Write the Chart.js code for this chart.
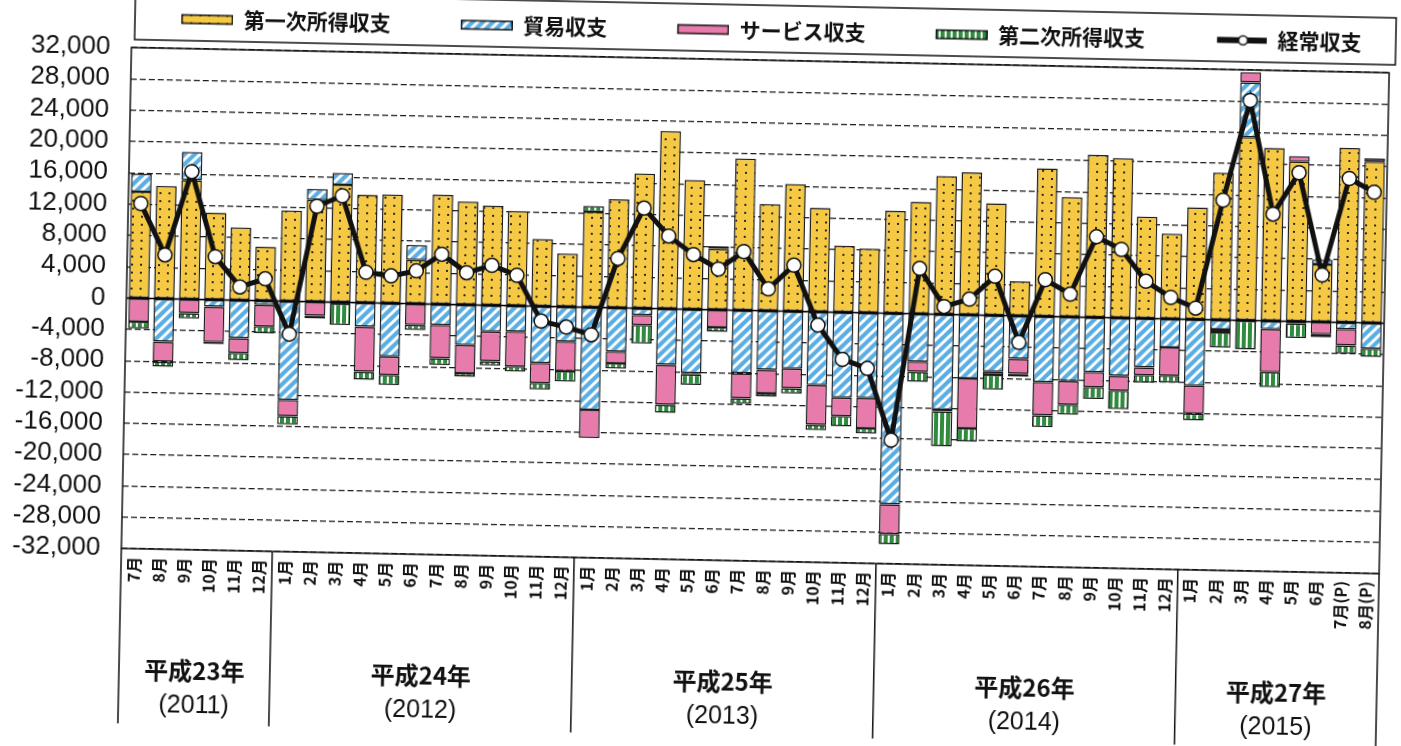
<!DOCTYPE html>
<html lang="ja">
<head>
<meta charset="utf-8">
<title>経常収支の推移</title>
<script src="https://cdn.jsdelivr.net/npm/chart.js@4.4.0/dist/chart.umd.min.js"></script>
<style>
  html, body { margin: 0; padding: 0; background: #fff; overflow: hidden; }
  /* the scan is a little skewed, so the whole drawing is turned the same way */
  #wrap { width: 1401px; height: 746px; transform: rotate(1.15deg); transform-origin: 50% 50%; }
</style>
</head>
<body>
<div id="wrap"><canvas id="grafico" width="1401" height="746"></canvas></div>
<script>

// months, 2011/7 .. 2015/8 (億円)
const meses = [
  "7月","8月","9月","10月","11月","12月",
  "1月","2月","3月","4月","5月","6月","7月","8月","9月","10月","11月","12月",
  "1月","2月","3月","4月","5月","6月","7月","8月","9月","10月","11月","12月",
  "1月","2月","3月","4月","5月","6月","7月","8月","9月","10月","11月","12月",
  "1月","2月","3月","4月","5月","6月","7月(P)","8月(P)"
];

const anos = ["平成23年", "平成24年", "平成25年", "平成26年", "平成27年"];
const anosOcidentais = ["(2011)", "(2012)", "(2013)", "(2014)", "(2015)"];
const mesesPorAno = [6, 12, 12, 12, 8];

const primeiraRenda = [
  13600, 14400, 15200, 11100, 9300, 6900,
  11600, 13000, 15000, 13800, 13900, 5600, 14000, 13200, 12700, 12100, 8600, 6800,
  12200, 13850, 17200, 22700, 16500, 7800, 19400, 13650, 16250, 13300, 8500, 8200,
  13100, 14300, 17650, 18200, 14300, 4400, 18900, 15300, 20750, 20400, 13000, 10900,
  14300, 18800, 23400, 22100, 20400, 7350, 22300, 20600
];

const comercio = [
  2300, -5500, 3600, -900, -4850, -550,
  -12600, 1400, 1500, -3050, -6800, 1900, -2650, -5150, -3350, -3300, -7250, -4450,
  -13100, -5600, -850, -7150, -8150, 300, -8050, -7550, -7300, -9350, -10900, -10900,
  -24400, -6100, -12200, -8100, -7200, -5500, -8400, -8200, -7000, -7400, -6250, -3650,
  -8450, -1200, 7000, -1050, -300, 600, -850, -3300
];

const servicos = [
  -3000, -2550, -1800, -4500, -1900, -2750,
  -2100, -1800, -200, -5750, -2350, -2700, -4250, -3600, -3800, -4450, -2550, -3800,
  -3600, -1500, -1300, -5100, -200, -2250, -3200, -3000, -2550, -5100, -2350, -3850,
  -3800, -1300, -200, -6400, -400, -1900, -4250, -3000, -1900, -1900, -1000, -3600,
  -3600, -400, 1300, -5500, 700, -1550, -2100, 400
];

const segundaRenda = [
  -850, -650, -650, -250, -900, -850,
  -1050, -300, -2700, -1050, -1300, -650, -850, -450, -550, -650, -850, -1300,
  750, -650, -2350, -1050, -1300, -550, -650, -400, -650, -650, -1300, -650,
  -1300, -1300, -4450, -1700, -1900, -350, -1500, -1300, -1500, -2350, -950, -850,
  -850, -1900, -3700, -1900, -1800, -400, -1050, -1050
];

const contaCorrente = [
  12100, 5600, 16300, 5500, 1700, 2800,
  -4200, 12200, 13600, 3900, 3500, 4200, 6400, 4100, 5100, 3900, -1900, -2600,
  -3500, 6300, 12800, 9300, 7000, 5200, 7500, 2800, 5900, -1700, -6000, -7100,
  -16200, 5800, 1000, 2000, 5000, -3400, 4700, 2900, 10300, 8750, 4750, 2750,
  1450, 15300, 28100, 13650, 19000, 6000, 18400, 16700
];

const fonteJP = '"Noto Sans CJK JP", "Noto Sans", sans-serif';
const fonteNum = '"Liberation Sans", Arial, sans-serif';

const canvas = document.getElementById("grafico");
const ctx = canvas.getContext("2d");

// hatch / dot fills like the printed chart
function criarPadrao(tipo, cor){

    let c = document.createElement("canvas");
    let g = c.getContext("2d");

    if(tipo === "pontos"){
        c.width = 9; c.height = 8;
        g.fillStyle = cor; g.fillRect(0, 0, 9, 8);
        g.fillStyle = "#2e2718"; g.fillRect(3, 3, 2, 2);
    } else if(tipo === "diagonal"){
        c.width = 10; c.height = 10;
        g.fillStyle = cor; g.fillRect(0, 0, 10, 10);
        g.strokeStyle = "#fff"; g.lineWidth = 3;
        g.beginPath();
        g.moveTo(-5, 5); g.lineTo(5, -5);
        g.moveTo(0, 10); g.lineTo(10, 0);
        g.moveTo(5, 15); g.lineTo(15, 5);
        g.stroke();
    } else if(tipo === "vertical"){
        c.width = 6; c.height = 6;
        g.fillStyle = cor; g.fillRect(0, 0, 6, 6);
        g.fillStyle = "#fff"; g.fillRect(3, 0, 2, 6);
    } else {
        return cor;
    }

    return ctx.createPattern(c, "repeat");
}

const corAmarelo = criarPadrao("pontos", "#f5c944");
const corAzul = criarPadrao("diagonal", "#5aaee3");
const corRosa = "#e77bab";
const corVerde = criarPadrao("vertical", "#2f8c3e");

// legend swatch pictures (blank on the left works as spacing)
function amostra(preenchimento, linha){

    let c = document.createElement("canvas");
    c.width = 100; c.height = 16;
    let g = c.getContext("2d");

    if(linha){
        g.strokeStyle = "#111"; g.lineWidth = 6;
        g.beginPath(); g.moveTo(50, 8); g.lineTo(100, 8); g.stroke();
        g.fillStyle = "#fff"; g.lineWidth = 1.5;
        g.beginPath(); g.arc(76, 8, 4.5, 0, Math.PI * 2); g.fill(); g.stroke();
    } else {
        g.fillStyle = preenchimento; g.fillRect(48, 3, 52, 10);
        g.strokeStyle = "#111"; g.lineWidth = 1.5; g.strokeRect(48.75, 3.75, 50.5, 8.5);
    }
    return c;
}

const amostras = [
    amostra(corAmarelo), amostra(corAzul), amostra(corRosa), amostra(corVerde), amostra(null, true)
];

function barra(label, dados, cor){
    return {
        type: "bar",
        label: label,
        data: dados,
        backgroundColor: cor,
        borderColor: "#1a1a1a",
        borderWidth: 1.5,
        borderSkipped: false,
        barPercentage: 0.82,
        categoryPercentage: 1,
        stack: "bop",
        order: 1
    };
}

const molduraPlugin = {
    id: "moldura",

    afterLayout(chart){
        // nudge the legend row to where the printed one sits
        let lg = chart.legend;
        lg.top -= 9; lg.bottom -= 9;
        lg.left += 49; lg.right += 49;
    },

    beforeDatasetsDraw(chart){
        let a = chart.chartArea;
        let y0 = chart.scales.y.getPixelForValue(0);
        let c = chart.ctx;
        c.save();
        c.strokeStyle = "#000"; c.lineWidth = 1.5;
        c.beginPath(); c.moveTo(a.left, y0); c.lineTo(a.right, y0); c.stroke();
        c.restore();
    },

    afterDraw(chart){
        let a = chart.chartArea;
        let x = chart.scales.x;
        let c = chart.ctx;
        let baixo = 735;

        c.save();
        c.strokeStyle = "#111";
        c.lineWidth = 1.5;
        c.strokeRect(a.left, a.top, a.right - a.left, a.bottom - a.top);

        // legend box
        c.strokeRect(a.left + 3, 4, a.right - a.left + 3, a.top - 12);

        c.beginPath();
        c.moveTo(a.left, a.bottom); c.lineTo(a.left, baixo);
        c.moveTo(a.right, a.bottom); c.lineTo(a.right, 746);

        let inicio = 0;
        c.fillStyle = "#111";
        c.textAlign = "center";
        c.textBaseline = "middle";

        for(let i = 0; i < anos.length; i++){

            let fim = inicio + mesesPorAno[i] - 1;

            if(i > 0){
                let xs = (x.getPixelForValue(inicio - 1) + x.getPixelForValue(inicio)) / 2;
                c.moveTo(xs, a.bottom); c.lineTo(xs, baixo);
            }

            let cx = (x.getPixelForValue(inicio) + x.getPixelForValue(fim)) / 2;
            c.font = "bold 24px " + fonteJP;
            c.fillText(anos[i], cx, 681);
            c.font = "25px " + fonteNum;
            c.fillText(anosOcidentais[i], cx, 716);

            inicio = fim + 1;
        }
        c.stroke();
        c.restore();
    }
};

new Chart(canvas, {
    data: {
        labels: meses,
        datasets: [
            barra("第一次所得収支", primeiraRenda, corAmarelo),
            barra("貿易収支", comercio, corAzul),
            barra("サービス収支", servicos, corRosa),
            barra("第二次所得収支", segundaRenda, corVerde),
            {
                type: "line",
                label: "経常収支",
                data: contaCorrente,
                borderColor: "#111",
                borderWidth: 5,
                pointRadius: 7,
                pointBackgroundColor: "#fff",
                pointBorderColor: "#111",
                pointBorderWidth: 1.5,
                tension: 0,
                stack: "cc",
                order: 0
            }
        ]
    },
    options: {
        responsive: false,
        animation: false,
        devicePixelRatio: 1,
        events: [],
        layout: { padding: { left: 0, right: 18, top: 6, bottom: 0 } },
        plugins: {
            tooltip: { enabled: false },
            legend: {
                position: "top",
                labels: {
                    usePointStyle: true,
                    pointStyleWidth: 100,
                    padding: 22,
                    color: "#111",
                    font: { family: fonteJP, size: 21, weight: "bold" },
                    generateLabels: (chart) => chart.data.datasets.map((ds, i) => ({
                        text: ds.label,
                        pointStyle: amostras[i],
                        datasetIndex: i,
                        hidden: false,
                        fontColor: "#111",
                        fillStyle: "transparent",
                        strokeStyle: "transparent",
                        lineWidth: 0
                    }))
                }
            }
        },
        scales: {
            x: {
                stacked: true,
                grid: { display: false, drawTicks: false },
                border: { display: false },
                ticks: {
                    autoSkip: false,
                    maxRotation: 90,
                    minRotation: 90,
                    padding: 8,
                    color: "#111",
                    font: { family: fonteJP, size: 16, weight: "bold" }
                },
                afterFit: (scale) => { scale.height = 186; }
            },
            y: {
                stacked: true,
                min: -32000,
                max: 32000,
                grid: {
                    color: "#1a1a1a",
                    lineWidth: 1.2,
                    drawTicks: false
                },
                border: { display: false, dash: [6, 3] },
                ticks: {
                    stepSize: 4000,
                    autoSkip: false,
                    padding: 21,
                    color: "#111",
                    font: { family: fonteNum, size: 26 },
                    callback: (v) => v.toLocaleString("en-US")
                },
                afterFit: (scale) => { scale.width = 125; }
            }
        }
    },
    plugins: [molduraPlugin]
});

</script>
</body>
</html>
